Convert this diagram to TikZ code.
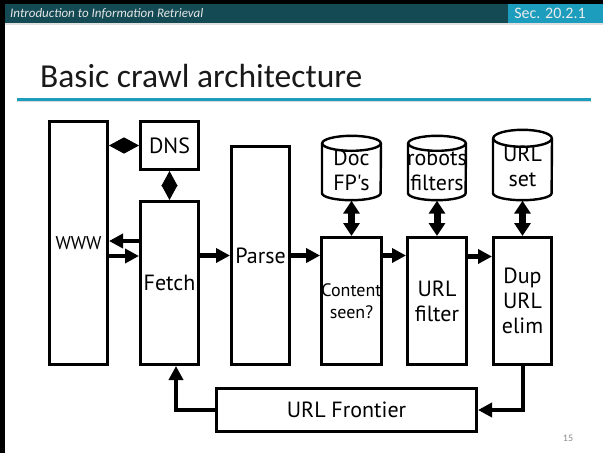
\documentclass[tikz,border=0pt]{standalone}
\usepackage{fontspec}
\setmainfont{Carlito}
\newfontfamily\dfont{PT Sans}
\usetikzlibrary{arrows.meta,calc}
\definecolor{headdark}{HTML}{134A54}
\definecolor{headlight}{HTML}{1C9DBD}
\definecolor{rulecol}{HTML}{1C9DBD}
\tikzset{
  box/.style={draw, line width=2.6pt, inner sep=0pt, align=center,
    font=\dfont\fontsize{22}{25}\selectfont},
  cylbody/.style={inner sep=0pt, align=center,
    font=\dfont\fontsize{22}{25}\selectfont},
  cylnode/.style={inner sep=0pt, minimum width=58.6pt},
  cylline/.style={line width=2.4pt},
  arr/.style={line width=4.5pt, -{Triangle[length=14pt,width=14pt]}},
  dbl/.style={line width=7pt,
    {Triangle[length=13pt,width=16pt]}-{Triangle[length=13pt,width=16pt]}},
  diam/.style={line width=1pt,
    {Triangle[length=15pt,width=16pt]}-{Triangle[length=15pt,width=16pt]}},
}
\begin{document}
\begin{tikzpicture}[x=1pt,y=-1pt]
\useasboundingbox (0,0) rectangle (603,453);
\fill[white] (0,0) rectangle (603,453);

% slide frame and header bar
\fill[black] (0,0) rectangle (603,4);
\fill[black] (0,0) rectangle (5,453);
\fill[headdark] (5,4) rectangle (508,23);
\fill[headlight] (508,4) rectangle (603,23);
\fill[black!12] (5,23) rectangle (603,25);
\node[anchor=west, text=white!90!black, inner sep=0pt,
      font=\itshape\fontsize{13}{14}\selectfont] (hdr) at (10,14)
  {Introduction to Information Retrieval};
\node[text=white!92!black, inner sep=0pt,
      font=\fontsize{16}{18}\selectfont] (sec) at (550,13.5) {Sec. 20.2.1};

% title and rule
\node[anchor=base west, inner sep=0pt, text=black!90,
      font=\fontsize{33.5}{36}\selectfont] (title) at (40,87)
  {Basic crawl architecture};
\draw[black!15, line width=1.5pt] (17,101.6) -- (591,101.6);
\draw[rulecol, line width=2.4pt] (17,99.5) -- (591,99.5);

% boxes
\node[box, minimum width=58.4pt, minimum height=243.4pt,
      font=\dfont\fontsize{18.5}{20}\selectfont] (www) at (78.5,243) {WWW};
\node[box, minimum width=58.4pt, minimum height=48.4pt] (dns) at (169.5,145.5) {DNS};
\node[box, minimum width=58.4pt, minimum height=163.4pt] (fetch) at (169.5,283) {Fetch};
\node[box, minimum width=58.4pt, minimum height=218.4pt] (parse) at (260.5,255.5) {Parse};
\node[box, minimum width=58.4pt, minimum height=127.4pt,
      font=\dfont\fontsize{18}{22}\selectfont] (content) at (351.5,301) {Content\\seen?};
\node[box, minimum width=59.4pt, minimum height=127.4pt] (urlf) at (437,301) {URL\\filter};
\node[box, minimum width=58.4pt, minimum height=127.4pt] (dup) at (522.5,301) {Dup\\URL\\elim};
\node[box, minimum width=260.4pt, minimum height=43.4pt] (front) at (346.5,410) {URL Frontier};

% data stores: an empty node spans the straight part of each cylinder
\node[cylnode, minimum height=49.5pt] (doc) at (351.5,168.25) {};
\node[cylnode, minimum width=57.6pt, minimum height=49.5pt] (rob) at (437,168.25) {};
\node[cylnode, minimum height=54.5pt] (set) at (522.5,165.75) {};
\draw[cylline] (doc.north west) -- (doc.south west)
  arc[start angle=180,end angle=0,x radius=29.3,y radius=7] -- (doc.north east);
\draw[cylline] (doc.north) ellipse[x radius=29.3,y radius=7.5];
\draw[cylline] (rob.north west) -- (rob.south west)
  arc[start angle=180,end angle=0,x radius=28.8,y radius=7] -- (rob.north east);
\draw[cylline] (rob.north) ellipse[x radius=28.8,y radius=7.5];
\draw[cylline] (set.north west) -- (set.south west)
  arc[start angle=180,end angle=0,x radius=29.3,y radius=7] -- (set.north east);
\draw[cylline] (set.north) ellipse[x radius=29.3,y radius=8.5];
\node[cylbody] (doct) at (351.5,170) {Doc\\FP's};
\node[cylbody] (robt) at (437,170) {robots\\filters};
\node[cylbody] (sett) at (522.5,166) {URL\\set};

% connectors
\draw[diam] (www.east |- dns.center) -- (dns.west);
\draw[diam] (dns.south) -- (fetch.north);
\coordinate (fw1) at ($(fetch.west)+(0,-42)$);
\coordinate (fw2) at ($(fetch.west)+(0,-27)$);
\draw[arr] (fw1) -- (fw1 -| www.east);
\draw[arr] (fw2 -| www.east) -- (fw2);
\draw[arr] (parse.west -| fetch.east) -- (parse.west);
\draw[arr] (parse.east) -- (parse.east -| content.west);
\draw[arr] (parse.east -| content.east) -- (parse.east -| urlf.west);
\draw[arr] ($(parse.east -| urlf.east)+(0,1)$) -- ($(parse.east -| dup.west)+(0,1)$);
\draw[dbl] ($(doc.south)+(0,7.5)$) -- (content.north);
\draw[dbl] ($(rob.south)+(0,7.5)$) -- (urlf.north);
\draw[dbl] ($(set.south)+(0,7.5)$) -- (dup.north);
\coordinate (fin) at ($(fetch.south)+(6.5,0)$);
\draw[arr, line width=4pt] (front.west) -| (fin);
\draw[arr, line width=4pt] (dup.south) |- (front.east);

% page number
\node[text=black!45, inner sep=0pt, font=\fontsize{10}{12}\selectfont] (pg) at (568,438) {15};
\end{tikzpicture}
\end{document}
